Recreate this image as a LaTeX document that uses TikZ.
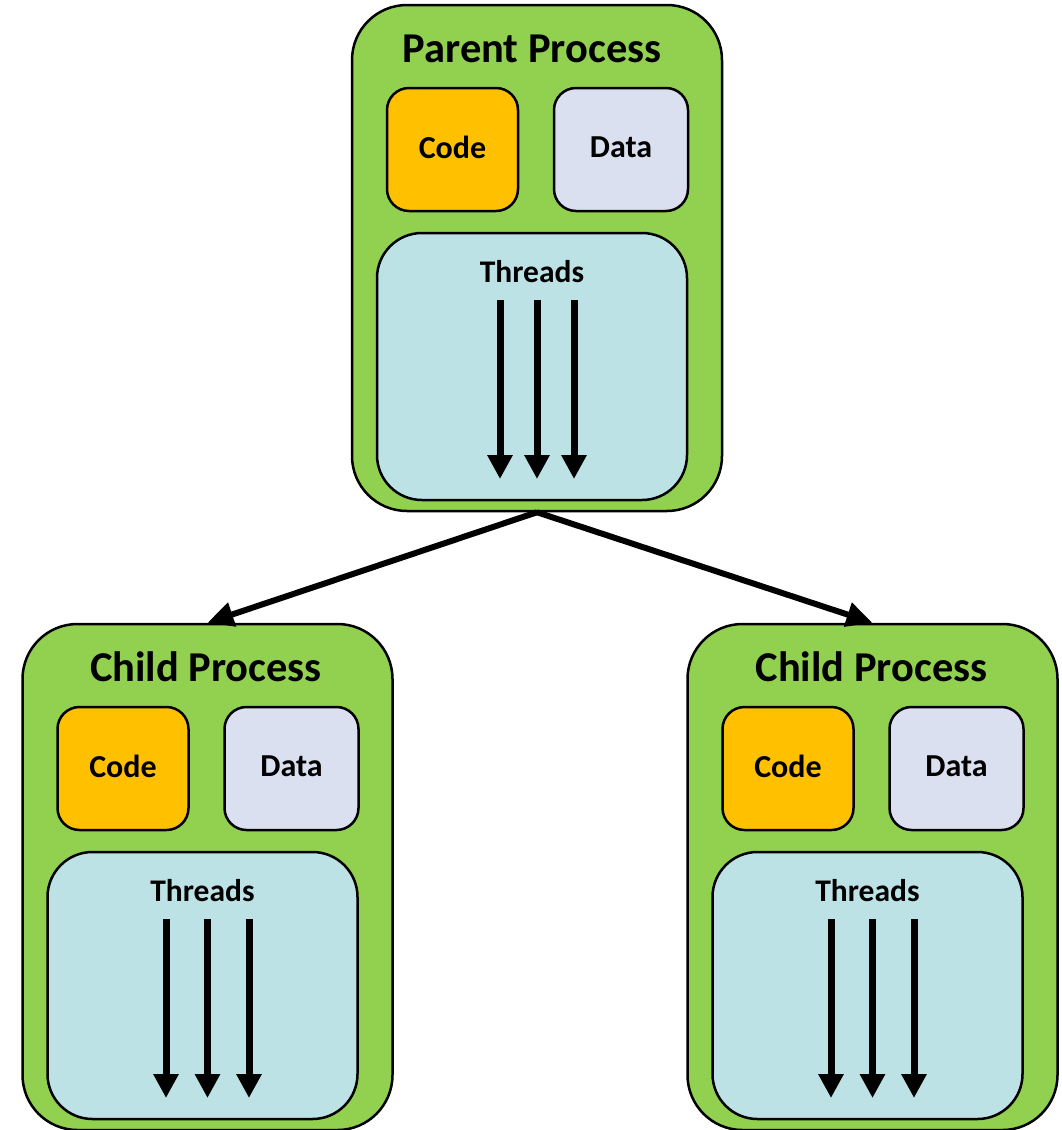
\documentclass[tikz,border=0pt]{standalone}
\usepackage{fontspec}
\setmainfont{Carlito}
\usetikzlibrary{arrows.meta}

\definecolor{procgreen}{HTML}{92D050}
\definecolor{codeorange}{HTML}{FFC000}
\definecolor{datablue}{HTML}{DAE0F0}
\definecolor{threadcyan}{HTML}{BDE2E5}

\tikzset{
  procbox/.style={draw=black, line width=2.5pt, fill=procgreen, rounded corners=55pt,
    minimum width=370pt, minimum height=506pt, inner sep=0pt},
  codebox/.style={draw=black, line width=2.5pt, fill=codeorange, rounded corners=22pt,
    minimum width=131pt, minimum height=123pt, inner sep=0pt},
  databox/.style={codebox, fill=datablue, minimum width=134pt},
  boxlabel/.style={inner sep=0pt, font=\bfseries\fontsize{32}{38}\selectfont},
  threadbox/.style={draw=black, line width=2.5pt, fill=threadcyan, rounded corners=45pt,
    minimum width=310pt, minimum height=267pt, inner sep=0pt},
  proctitle/.style={anchor=base, inner sep=0pt, font=\bfseries\fontsize{42.5}{50}\selectfont},
  threadlabel/.style={inner sep=0pt, font=\bfseries\fontsize{31.5}{38}\selectfont},
  threadarrow/.style={line width=7pt, -{Triangle[width=24pt,length=24pt]}},
  forkarrow/.style={line width=6pt, -{Triangle[width=24pt,length=26pt]}}
}

% One process block: #1 name prefix, #2 centre x, #3 top y, #4 title,
% #5 thread spacing, #6 horizontal shift of the title
\newcommand{\ProcessBlock}[6]{%
  \node[procbox] (#1) at (#2, #3+253) {};
  \node[proctitle] (#1title) at (#2+#6, #3+57) {#4};
  \node[codebox] (#1code) at (#2-84.5, #3+144.5) {};
  \node[boxlabel] (#1codelabel) at (#2-84.5, #3+142) {Code};
  \node[databox] (#1data) at (#2+84, #3+144.5) {};
  \node[boxlabel] (#1datalabel) at (#2+84, #3+142) {Data};
  \node[threadbox] (#1threads) at (#2-5, #3+361.5) {};
  \node[threadlabel] (#1tlabel) at (#2-5, #3+267) {Threads};
  \foreach \k in {-1,0,1} {
    \coordinate (#1s\k) at (#2+\k*#5, #3+295);
    \coordinate (#1e\k) at (#2+\k*#5, #3+474);
    \draw[threadarrow] (#1s\k) -- (#1e\k);
  }
}

\begin{document}
\begin{tikzpicture}[x=1pt, y=-1pt]
  \useasboundingbox (0,0) rectangle (1061,1130);

  \ProcessBlock{par}{537}{5}{Parent Process}{37}{-5}
  \ProcessBlock{lc}{207.5}{624}{Child Process}{41.5}{-1.5}
  \ProcessBlock{rc}{872.5}{624}{Child Process}{41.5}{-1}

  % fork connectors from the parent to each child
  \draw[forkarrow] (par.south) -- (lc.north);
  \draw[forkarrow] (par.south) -- (rc.north);
\end{tikzpicture}
\end{document}
